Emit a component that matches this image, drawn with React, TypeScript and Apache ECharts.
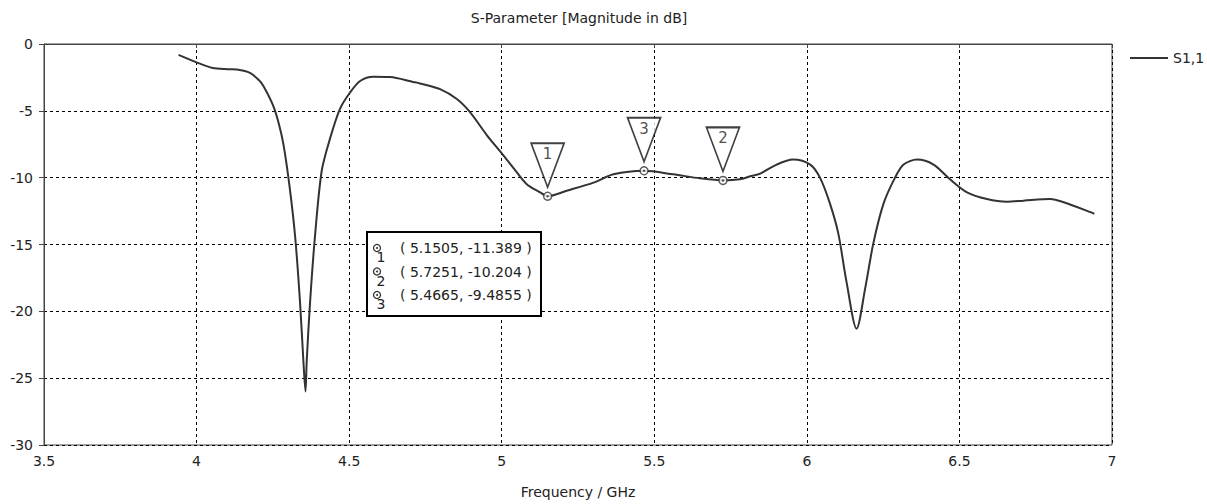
import React, { useEffect, useRef } from "react";
import * as echarts from "echarts";

const freq = [
  3.941, 4.0, 4.053, 4.104, 4.132, 4.175, 4.204, 4.219, 4.251, 4.27, 4.285, 4.305, 4.323, 4.339, 4.35, 4.357,
  4.361, 4.372, 4.388, 4.41, 4.4375, 4.47, 4.503, 4.536, 4.579, 4.634, 4.71, 4.732, 4.798, 4.853, 4.896,
  4.951, 4.995, 5.038, 5.082, 5.126, 5.1505, 5.213, 5.301, 5.366, 5.4665, 5.562, 5.65, 5.7251, 5.781, 5.814,
  5.847, 5.901, 5.955, 6.011, 6.043, 6.076, 6.103, 6.13, 6.163, 6.191, 6.218, 6.251, 6.289, 6.317, 6.361,
  6.415, 6.469, 6.525, 6.59, 6.656, 6.71, 6.797, 6.842, 6.934, 6.942,
];
const s11 = [
  -0.81, -1.37, -1.79, -1.88, -1.91, -2.16, -2.7, -3.14, -4.61, -6.0, -7.55, -10.7, -14.4, -19.3, -23.7, -26.0,
  -23.7, -19.3, -14.4, -9.5, -7.06, -4.85, -3.63, -2.77, -2.45, -2.47, -2.84, -2.95, -3.38, -4.12, -5.1,
  -6.81, -8.04, -9.26, -10.49, -11.1, -11.389, -10.98, -10.37, -9.75, -9.4855, -9.75, -10.05, -10.204, -10.12, -9.9,
  -9.7, -9.02, -8.65, -9.02, -10.0, -11.96, -14.17, -17.8, -21.3, -18.3, -14.9, -11.96, -10.0, -9.02, -8.65,
  -9.02, -10.12, -11.1, -11.6, -11.8, -11.72, -11.6, -11.84, -12.62, -12.7,
];

const markerIds = ["1", "2", "3"];
const markerX = [5.1505, 5.7251, 5.4665];
const markerY = [-11.389, -10.204, -9.4855];

const xTicks = [3.5, 4, 4.5, 5, 5.5, 6, 6.5, 7];
const yTicks = [-30, -25, -20, -15, -10, -5, 0];

const titleText = "S-Parameter [Magnitude in dB]";
const xAxisName = "Frequency / GHz";
const seriesName = "S1,1";

const FONT = "Tahoma, 'DejaVu Sans', sans-serif";

export default function App() {
  const ref = useRef<HTMLDivElement>(null);
  useEffect(() => {
    if (!ref.current) return;
    const chart = echarts.init(ref.current, undefined, { renderer: "svg" });
    const lineData = freq.map((f, i) => [f, s11[i]]);
    const mData = markerX.map((x, i) => [x, markerY[i]]);

    const boxLeft = 367;
    const boxTop = 232;
    const rowH = 23.5;
    const Z = 100;
    const boxChildren: any[] = [
      {
        type: "rect",
        z: Z,
        shape: { x: boxLeft, y: boxTop, width: 174, height: 84 },
        style: { fill: "#fff", stroke: "#000", lineWidth: 2 },
      },
    ];
    markerIds.forEach((id, i) => {
      const cy = boxTop + 16 + i * rowH;
      boxChildren.push({
        type: "circle",
        z: Z + 1,
        shape: { cx: boxLeft + 10, cy, r: 3.5 },
        style: { fill: "#fff", stroke: "#333", lineWidth: 1.3 },
      });
      boxChildren.push({
        type: "circle",
        z: Z + 2,
        shape: { cx: boxLeft + 10, cy, r: 1 },
        style: { fill: "#333" },
      });
      boxChildren.push({
        type: "text",
        z: Z + 1,
        x: boxLeft + 14,
        y: cy + 9,
        style: { text: id, font: `14px ${FONT}`, fill: "#222", textAlign: "center", textVerticalAlign: "middle" },
      });
      boxChildren.push({
        type: "text",
        z: Z + 1,
        x: boxLeft + 33,
        y: cy,
        style: {
          text: `( ${markerX[i]}, ${markerY[i]} )`,
          font: `14px ${FONT}`,
          fill: "#222",
          textVerticalAlign: "middle",
        },
      });
    });

    chart.setOption({
      animation: false,
      backgroundColor: "#fff",
      title: {
        text: titleText,
        left: 574,
        top: 6,
        textAlign: "center",
        textStyle: { fontFamily: FONT, fontSize: 14, fontWeight: "normal", color: "#222" },
      },
      legend: {
        left: 1130,
        top: 51,
        padding: 0,
        icon: "rect",
        itemWidth: 38,
        itemHeight: 2,
        data: [seriesName],
        textStyle: { fontFamily: FONT, fontSize: 14, color: "#222" },
      },
      grid: {
        left: 44,
        right: 95,
        top: 44,
        bottom: 52,
        show: true,
        borderColor: "#444",
        borderWidth: 1,
        backgroundColor: "transparent",
      },
      xAxis: {
        type: "value",
        min: xTicks[0],
        max: xTicks[xTicks.length - 1],
        interval: 0.5,
        name: xAxisName,
        nameLocation: "middle",
        nameGap: 40,
        nameTextStyle: { fontFamily: FONT, fontSize: 14, color: "#222" },
        axisLine: { lineStyle: { color: "#444", width: 1 } },
        axisTick: { show: true, length: 4, lineStyle: { color: "#444" } },
        axisLabel: { fontFamily: FONT, fontSize: 14, color: "#222", margin: 9 },
        splitLine: { show: true, lineStyle: { color: "#000", type: [3, 3], width: 1 } },
      },
      yAxis: {
        type: "value",
        min: yTicks[0],
        max: yTicks[yTicks.length - 1],
        interval: 5,
        axisLine: { show: true, lineStyle: { color: "#444", width: 1 } },
        axisTick: { show: true, length: 5, lineStyle: { color: "#444" } },
        axisLabel: { fontFamily: FONT, fontSize: 14, color: "#222", margin: 11 },
        splitLine: { show: true, lineStyle: { color: "#000", type: [3, 3], width: 1 } },
      },
      series: [
        {
          name: seriesName,
          type: "line",
          data: lineData,
          showSymbol: false,
          smooth: 0.3,
          lineStyle: { color: "#333", width: 2 },
          itemStyle: { color: "#333" },
          z: 2,
        },
        {
          type: "scatter",
          data: mData,
          symbol: "path://M0,0 L33,0 L16.5,44 Z",
          symbolSize: [33, 44],
          symbolOffset: [0, -31],
          itemStyle: { color: "#fff", borderColor: "#111", borderWidth: 1.8 },
          label: {
            show: true,
            position: "inside",
            offset: [0, -11],
            formatter: (p: any) => markerIds[p.dataIndex],
            fontFamily: FONT,
            fontSize: 15,
            color: "#222",
          },
          z: 3,
        },
        {
          type: "scatter",
          data: mData,
          symbol: "circle",
          symbolSize: 8,
          itemStyle: { color: "#fff", borderColor: "#333", borderWidth: 1.4 },
          z: 4,
        },
        {
          type: "scatter",
          data: mData,
          symbol: "circle",
          symbolSize: 2.5,
          itemStyle: { color: "#333" },
          z: 5,
        },
      ],
      graphic: { elements: [{ type: "group", z: Z, children: boxChildren }] },
    });
    return () => chart.dispose();
  }, []);
  return <div ref={ref} style={{ width: 1207, height: 504, position: "absolute", left: 0, top: 0 }} />;
}
